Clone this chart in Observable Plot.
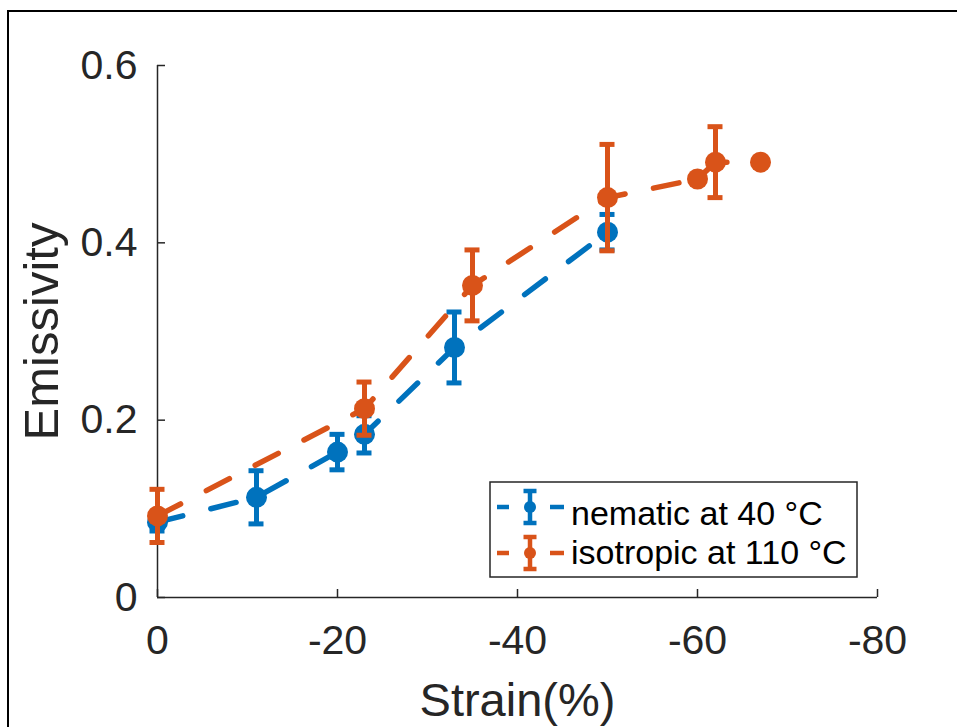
<!DOCTYPE html>
<html><head><meta charset="utf-8">
<script src="https://cdn.jsdelivr.net/npm/d3@7"></script>
<script src="https://cdn.jsdelivr.net/npm/@observablehq/plot@0.6"></script>
<style>
body{margin:0;background:#fff;font-family:"Liberation Sans",Arial,Helvetica,sans-serif;}
#wrap{position:relative;width:957px;height:727px;overflow:hidden;background:#fff;}
#frame{position:absolute;left:7px;top:10px;width:1000px;height:1000px;border-left:2.5px solid #000;border-top:2.5px solid #000;}
#chart{position:absolute;left:0;top:0;}
#legend{position:absolute;left:0;top:0;pointer-events:none;}
</style></head><body>
<div id="wrap"><div id="frame"></div><div id="chart"></div><svg id="legend" width="957" height="727"></svg></div>
<script>
// Data
const strainNematic = [0, -11, -20, -23, -33, -50];
const emNematic     = [0.085, 0.113, 0.164, 0.184, 0.282, 0.412];
const errNematic    = [0.01, 0.03, 0.02, 0.021, 0.04, 0.02];

const strainIsotropic = [0, -23, -35, -50, -60, -62, -67];
const emIsotropic     = [0.092, 0.213, 0.352, 0.451, 0.472, 0.491, 0.491];
const errIsotropic    = [0.03, 0.03, 0.04, 0.06, 0, 0.04, 0];

const seriesNames  = ["nematic at 40 °C", "isotropic at 110 °C"];
const seriesColors = ["#0072BD", "#D95319"];

const xTicks = [0, -20, -40, -60, -80];
const yTicks = [0, 0.2, 0.4, 0.6];
const xLabel = "Strain(%)";
const yLabel = "Emissivity";

const nematic = strainNematic.map((x, i) => ({x, y: emNematic[i], e: errNematic[i]}));
const isotropic = strainIsotropic.map((x, i) => ({x, y: emIsotropic[i], e: errIsotropic[i]}));

const axisColor = "#262626";
const font = "'Liberation Sans', Arial, Helvetica, sans-serif";

function seriesMarks(data, color) {
  const eb = data.filter(d => d.e > 0);
  return [
    Plot.line(data, {x: "x", y: "y", stroke: color, strokeWidth: 5.5, strokeDasharray: "26,29"}),
    Plot.ruleX(eb, {x: "x", y1: d => d.y - d.e, y2: d => d.y + d.e, stroke: color, strokeWidth: 5}),
    Plot.ruleY(eb, {y: d => d.y + d.e, x1: "x", x2: "x", insetLeft: -7.5, insetRight: -7.5, stroke: color, strokeWidth: 5}),
    Plot.ruleY(eb, {y: d => d.y - d.e, x1: "x", x2: "x", insetLeft: -7.5, insetRight: -7.5, stroke: color, strokeWidth: 5}),
    Plot.dot(data, {x: "x", y: "y", r: 10.5, fill: color, stroke: null})
  ];
}

const chart = Plot.plot({
  width: 957,
  height: 727,
  marginLeft: 157,
  marginRight: 80,
  marginTop: 65,
  marginBottom: 130,
  style: {fontFamily: font, fontSize: "40px", color: axisColor, background: "transparent", overflow: "visible"},
  x: {domain: [0, -80]},
  y: {domain: [0, 0.6]},
  marks: [
    Plot.ruleX([0], {stroke: axisColor, strokeWidth: 1.5}),
    Plot.ruleY([0], {stroke: axisColor, strokeWidth: 1.5}),
    Plot.axisX({ticks: xTicks, tickSize: -8, tickPadding: 35, tickFormat: d => String(d), label: null, stroke: axisColor, strokeWidth: 1.5, fontSize: 41, fill: axisColor}),
    Plot.axisY({ticks: yTicks, tickSize: -8, tickPadding: 28, tickFormat: d => String(d), label: null, stroke: axisColor, strokeWidth: 1.5, fontSize: 41, fill: axisColor}),
    Plot.text([xLabel], {frameAnchor: "bottom", textAnchor: "middle", dy: 118, fontSize: 47, fill: axisColor}),
    Plot.text([yLabel], {frameAnchor: "left", textAnchor: "middle", dx: -115, rotate: -90, fontSize: 49, fill: axisColor}),
    ...seriesMarks(nematic, seriesColors[0]),
    ...seriesMarks(isotropic, seriesColors[1])
  ]
});
document.getElementById("chart").appendChild(chart);

// Legend (inside the plot area, lower right)
const lg = d3.select("#legend");
lg.append("rect").attr("x", 490).attr("y", 482).attr("width", 367).attr("height", 95)
  .attr("fill", "#fff").attr("stroke", axisColor).attr("stroke-width", 1.5);
const rows = [{cy: 507, ty: 513}, {cy: 553, ty: 552}];
seriesNames.forEach((name, i) => {
  const c = seriesColors[i], r = rows[i];
  lg.append("line").attr("x1", 497).attr("x2", 509).attr("y1", r.cy).attr("y2", r.cy).attr("stroke", c).attr("stroke-width", 4.5);
  lg.append("line").attr("x1", 550).attr("x2", 564).attr("y1", r.cy).attr("y2", r.cy).attr("stroke", c).attr("stroke-width", 4.5);
  lg.append("line").attr("x1", 530).attr("x2", 530).attr("y1", r.cy - 16).attr("y2", r.cy + 16).attr("stroke", c).attr("stroke-width", 4.5);
  lg.append("line").attr("x1", 523.5).attr("x2", 536.5).attr("y1", r.cy - 16).attr("y2", r.cy - 16).attr("stroke", c).attr("stroke-width", 4.5);
  lg.append("line").attr("x1", 523.5).attr("x2", 536.5).attr("y1", r.cy + 16).attr("y2", r.cy + 16).attr("stroke", c).attr("stroke-width", 4.5);
  lg.append("circle").attr("cx", 530).attr("cy", r.cy).attr("r", 6).attr("fill", c);
  lg.append("text").attr("x", 571).attr("y", r.ty).attr("dominant-baseline", "central")
    .attr("font-family", font).attr("font-size", 34).attr("fill", "#000").text(name);
});
</script>
</body></html>
